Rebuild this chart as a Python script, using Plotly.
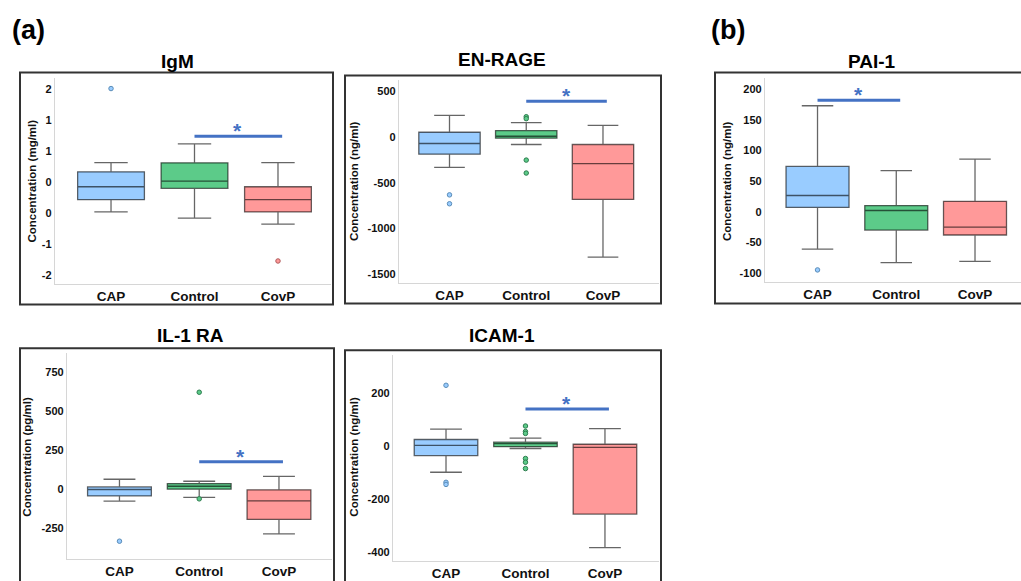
import plotly.graph_objects as go

W, H = 1021, 581
FONT = "Liberation Sans, Arial, sans-serif"

categories = ["CAP", "Control", "CovP"]
fill_colors = ["#99CCFF", "#5CCB89", "#FF9999"]
outlier_edge = ["#5B8DB8", "#2E7D4F", "#B05A5A"]

# ---- IgM (mg/ml) ----
igm_lower = [-0.477, -0.578, -0.675]
igm_q1 = [-0.279, -0.096, -0.477]
igm_median = [-0.070, 0.021, -0.279]
igm_q3 = [0.171, 0.316, -0.070]
igm_upper = [0.321, 0.621, 0.321]
igm_outliers = [[1.516], [], [-1.269]]
igm_ticks = [1.5, 1.0, 0.5, 0.0, -0.5, -1.0, -1.5]
igm_ticktext = ["2", "1", "1", "0", "0", "-1", "-2"]

# ---- EN-RAGE (ng/ml) ----
enrage_lower = [-332, -83, -1310]
enrage_q1 = [-188, -14, -682]
enrage_median = [-72, 7, -292]
enrage_q3 = [51, 69, -83]
enrage_upper = [235, 155, 126]
enrage_outliers = [[-632, -729], [220, 199, -253, -394], []]
enrage_ticks = [500, 0, -500, -1000, -1500]

# ---- PAI-1 (ng/ml) ----
pai_lower = [-61, -83, -81]
pai_q1 = [7, -30, -38]
pai_median = [26.5, 2, -25]
pai_q3 = [74, 10, 17]
pai_upper = [173, 67, 86]
pai_outliers = [[-95], [], []]
pai_ticks = [200, 150, 100, 50, 0, -50, -100]

# ---- IL-1 RA (pg/ml) ----
il1_lower = [-79, -55, -289]
il1_q1 = [-45, -2, -196]
il1_median = [-4, 17, -77]
il1_q3 = [13, 34, -6]
il1_upper = [62, 49, 81]
il1_outliers = [[-336], [621, -64], []]
il1_ticks = [750, 500, 250, 0, -250]

# ---- ICAM-1 (ng/ml) ----
icam_lower = [-98, -8, -383]
icam_q1 = [-35, -1, -256]
icam_median = [4, 10, -4]
icam_q3 = [26, 16, 8]
icam_upper = [65, 31, 67]
icam_outliers = [[231, -136, -144], [77, 56, 49, -46, -60, -84], []]
icam_ticks = [200, 0, -200, -400]

# significance: (group a, group b, bar level)
sig_igm = (1, 2, 0.745)
sig_enrage = (1, 2, 390)
sig_pai = (0, 1, 182)
sig_il1 = (1, 2, 174)
sig_icam = (1, 2, 141)


def px(x):
    return x / W


def py(y):
    return 1 - y / H


panels = [
    dict(title="IgM", ylabel="Concentration (mg/ml)",
         stats=(igm_lower, igm_q1, igm_median, igm_q3, igm_upper), outl=igm_outliers,
         ticks=igm_ticks, ticktext=igm_ticktext, sig=sig_igm,
         dx=(55, 331), dy=(78, 285), xr=(-0.671, 2.635), yr=(-1.633, 1.693),
         frame=(20, 73, 333, 306), tpos=(177, 62), ypos=(32, 182.5)),
    dict(title="EN-RAGE", ylabel="Concentration (ng/ml)",
         stats=(enrage_lower, enrage_q1, enrage_median, enrage_q3, enrage_upper), outl=enrage_outliers,
         ticks=enrage_ticks, ticktext=None, sig=sig_enrage,
         dx=(399, 659), dy=(80, 284), xr=(-0.658, 2.73), yr=(-1588, 625),
         frame=(345, 76, 661, 305), tpos=(502, 60), ypos=(354, 182)),
    dict(title="PAI-1", ylabel="Concentration (ng/ml)",
         stats=(pai_lower, pai_q1, pai_median, pai_q3, pai_upper), outl=pai_outliers,
         ticks=pai_ticks, ticktext=None, sig=sig_pai,
         dx=(765, 1021), dy=(78, 283), xr=(-0.667, 2.584), yr=(-114, 219),
         frame=(715, 73, 1030, 305), tpos=(872, 61.5), ypos=(727, 182)),
    dict(title="IL-1 RA", ylabel="Concentration (pg/ml)",
         stats=(il1_lower, il1_q1, il1_median, il1_q3, il1_upper), outl=il1_outliers,
         ticks=il1_ticks, ticktext=None, sig=sig_il1,
         dx=(67, 332), dy=(355, 562), xr=(-0.658, 2.665), yr=(-451, 872),
         frame=(20, 350, 334, 600), tpos=(190, 337), ypos=(27, 459)),
    dict(title="ICAM-1", ylabel="Concentration (ng/ml)",
         stats=(icam_lower, icam_q1, icam_median, icam_q3, icam_upper), outl=icam_outliers,
         ticks=icam_ticks, ticktext=None, sig=sig_icam,
         dx=(393, 659), dy=(357, 564), xr=(-0.667, 2.68), yr=(-434, 345),
         frame=(345, 352, 661, 600), tpos=(502, 337), ypos=(354, 459)),
]

fig = go.Figure()
shapes = []
annotations = []
layout_axes = {}

for i, p in enumerate(panels, start=1):
    xa = "x" if i == 1 else f"x{i}"
    ya = "y" if i == 1 else f"y{i}"
    lower, q1, med, q3, upper = p["stats"]
    for k, cat in enumerate(categories):
        fig.add_trace(go.Box(
            x=[cat], lowerfence=[lower[k]], q1=[q1[k]], median=[med[k]],
            q3=[q3[k]], upperfence=[upper[k]],
            fillcolor=fill_colors[k], line=dict(color="rgba(0,0,0,0.6)", width=1.3),
            whiskerwidth=0.5, width=0.8, boxpoints=False,
            xaxis=xa, yaxis=ya, showlegend=False, hoverinfo="skip"))
        if p["outl"][k]:
            fig.add_trace(go.Scatter(
                x=[cat] * len(p["outl"][k]), y=p["outl"][k], mode="markers",
                marker=dict(size=4.5, color=fill_colors[k],
                            line=dict(color=outlier_edge[k], width=1)),
                xaxis=xa, yaxis=ya, showlegend=False, hoverinfo="skip"))

    xkey = "xaxis" if i == 1 else f"xaxis{i}"
    ykey = "yaxis" if i == 1 else f"yaxis{i}"
    layout_axes[xkey] = dict(
        domain=[px(p["dx"][0]), min(1.0, px(p["dx"][1]))], range=list(p["xr"]),
        type="category", categoryorder="array", categoryarray=categories,
        anchor=ya, showline=True, linecolor="#D6D6D6", linewidth=1.3,
        showgrid=False, zeroline=False, ticks="",
        tickfont=dict(family=FONT, size=13.5, color="#111", weight="bold"),
        fixedrange=True)
    ticktext = p["ticktext"] if p["ticktext"] is not None else [str(v) for v in p["ticks"]]
    layout_axes[ykey] = dict(
        domain=[py(p["dy"][1]), py(p["dy"][0])], range=list(p["yr"]),
        anchor=xa, showline=True, linecolor="#D6D6D6", linewidth=1.3,
        showgrid=False, zeroline=False, ticks="", tickvals=p["ticks"], ticktext=ticktext,
        tickfont=dict(family=FONT, size=11, color="#111", weight="bold"),
        fixedrange=True)

    # frame
    fx0, fy0, fx1, fy1 = p["frame"]
    shapes.append(dict(type="rect", xref="paper", yref="paper",
                       x0=px(fx0), x1=px(fx1), y0=py(fy1), y1=py(fy0),
                       line=dict(color="#333333", width=2), fillcolor="rgba(0,0,0,0)",
                       layer="above"))
    # significance bar
    a, b, lvl = p["sig"]
    shapes.append(dict(type="line", xref=xa, yref=ya, x0=a, x1=b + 0.05, y0=lvl, y1=lvl,
                       line=dict(color="#4472C4", width=3)))
    annotations.append(dict(xref=xa, yref=ya, x=(a + b) / 2 + 0.02, y=lvl, text="*",
                            showarrow=False, yanchor="bottom", yshift=-8,
                            font=dict(family=FONT, size=21, color="#4472C4", weight="bold")))
    # panel title
    annotations.append(dict(xref="paper", yref="paper", x=px(p["tpos"][0]), y=py(p["tpos"][1]),
                            text=p["title"], showarrow=False, xanchor="center", yanchor="middle",
                            font=dict(family=FONT, size=19, color="#000", weight="bold")))
    # y-axis title
    annotations.append(dict(xref="paper", yref="paper", x=px(p["ypos"][0]), y=py(p["ypos"][1]),
                            text=p["ylabel"], showarrow=False, textangle=-90,
                            xanchor="center", yanchor="middle",
                            font=dict(family=FONT, size=11.5, color="#111", weight="bold")))

for lbl, (lx, ly) in [("(a)", (28, 30)), ("(b)", (728, 30))]:
    annotations.append(dict(xref="paper", yref="paper", x=px(lx), y=py(ly), text=lbl,
                            showarrow=False, xanchor="center", yanchor="middle",
                            font=dict(family=FONT, size=27, color="#000", weight="bold")))

fig.update_layout(
    width=W, height=H, margin=dict(l=0, r=0, t=0, b=0),
    paper_bgcolor="white", plot_bgcolor="white",
    showlegend=False, boxmode="overlay",
    shapes=shapes, annotations=annotations, **layout_axes)

fig.write_html("out.html")
